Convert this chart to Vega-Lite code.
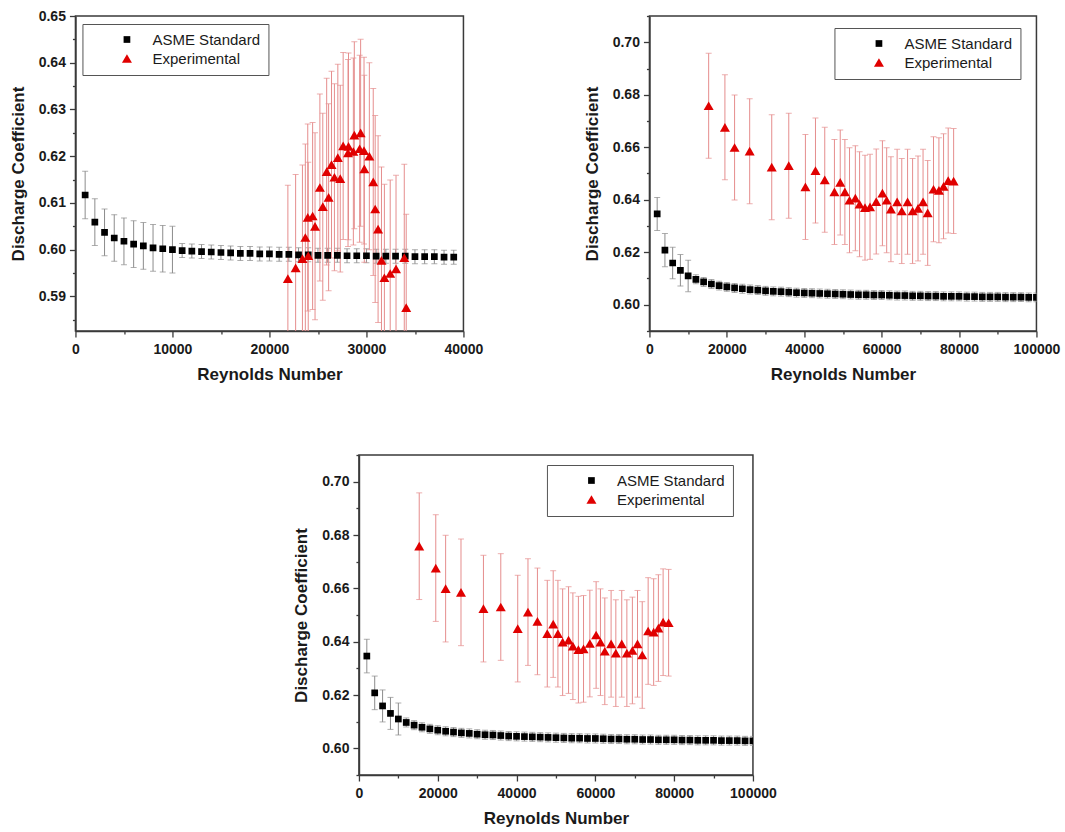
{
  "$schema": "https://vega.github.io/schema/vega-lite/v6.json",
  "background": "white",
  "padding": {"left": 8, "top": 8, "right": 0, "bottom": 0},
  "config": {
    "font": "Liberation Sans",
    "view": {"stroke": "#3a3a3a", "strokeWidth": 1.5},
    "axis": {
      "grid": false,
      "domainColor": "#3a3a3a",
      "domainWidth": 1.5,
      "tickColor": "#3a3a3a",
      "tickWidth": 1.3,
      "labelFont": "Liberation Sans",
      "labelFontWeight": "bold",
      "labelFontSize": 14,
      "labelColor": "#1a1a1a",
      "labelOverlap": false,
      "labelFlush": false,
      "titleFont": "Liberation Sans",
      "titleFontWeight": "bold",
      "titleFontSize": 17,
      "titleColor": "#1a1a1a"
    },
    "axisX": {"labelPadding": 5, "titlePadding": 10},
    "axisY": {"labelPadding": 4, "titlePadding": 11},
    "legend": {
      "labelFont": "Liberation Sans",
      "labelFontSize": 15,
      "labelColor": "#1a1a1a",
      "strokeColor": "#555555",
      "fillColor": "white",
      "padding": 8,
      "symbolOffset": 29,
      "labelOffset": 18,
      "rowPadding": 3,
      "symbolSize": 60,
      "symbolStrokeWidth": 0
    }
  },
  "datasets": {
    "reA": [
      {"series": "ASME Standard", "Re": 1000, "Cd": 0.6117, "err": 0.0051},
      {"series": "ASME Standard", "Re": 2000, "Cd": 0.6059, "err": 0.005},
      {"series": "ASME Standard", "Re": 3000, "Cd": 0.6037, "err": 0.005},
      {"series": "ASME Standard", "Re": 4000, "Cd": 0.6025, "err": 0.005},
      {"series": "ASME Standard", "Re": 5000, "Cd": 0.6018, "err": 0.005},
      {"series": "ASME Standard", "Re": 6000, "Cd": 0.6012, "err": 0.005},
      {"series": "ASME Standard", "Re": 7000, "Cd": 0.6008, "err": 0.005},
      {"series": "ASME Standard", "Re": 8000, "Cd": 0.6004, "err": 0.005},
      {"series": "ASME Standard", "Re": 9000, "Cd": 0.6002, "err": 0.005},
      {"series": "ASME Standard", "Re": 10000, "Cd": 0.6, "err": 0.005},
      {"series": "ASME Standard", "Re": 11000, "Cd": 0.5998, "err": 0.0015},
      {"series": "ASME Standard", "Re": 12000, "Cd": 0.5997, "err": 0.0015},
      {"series": "ASME Standard", "Re": 13000, "Cd": 0.5996, "err": 0.0015},
      {"series": "ASME Standard", "Re": 14000, "Cd": 0.5995, "err": 0.0015},
      {"series": "ASME Standard", "Re": 15000, "Cd": 0.5994, "err": 0.0015},
      {"series": "ASME Standard", "Re": 16000, "Cd": 0.5993, "err": 0.0015},
      {"series": "ASME Standard", "Re": 17000, "Cd": 0.5992, "err": 0.0015},
      {"series": "ASME Standard", "Re": 18000, "Cd": 0.5992, "err": 0.0015},
      {"series": "ASME Standard", "Re": 19000, "Cd": 0.5991, "err": 0.0015},
      {"series": "ASME Standard", "Re": 20000, "Cd": 0.5991, "err": 0.0015},
      {"series": "ASME Standard", "Re": 21000, "Cd": 0.599, "err": 0.0015},
      {"series": "ASME Standard", "Re": 22000, "Cd": 0.599, "err": 0.0015},
      {"series": "ASME Standard", "Re": 23000, "Cd": 0.5989, "err": 0.0015},
      {"series": "ASME Standard", "Re": 24000, "Cd": 0.5989, "err": 0.0015},
      {"series": "ASME Standard", "Re": 25000, "Cd": 0.5988, "err": 0.0015},
      {"series": "ASME Standard", "Re": 26000, "Cd": 0.5988, "err": 0.0015},
      {"series": "ASME Standard", "Re": 27000, "Cd": 0.5988, "err": 0.0015},
      {"series": "ASME Standard", "Re": 28000, "Cd": 0.5987, "err": 0.0015},
      {"series": "ASME Standard", "Re": 29000, "Cd": 0.5987, "err": 0.0015},
      {"series": "ASME Standard", "Re": 30000, "Cd": 0.5987, "err": 0.0015},
      {"series": "ASME Standard", "Re": 31000, "Cd": 0.5986, "err": 0.0015},
      {"series": "ASME Standard", "Re": 32000, "Cd": 0.5986, "err": 0.0015},
      {"series": "ASME Standard", "Re": 33000, "Cd": 0.5986, "err": 0.0015},
      {"series": "ASME Standard", "Re": 34000, "Cd": 0.5986, "err": 0.0015},
      {"series": "ASME Standard", "Re": 35000, "Cd": 0.5985, "err": 0.0015},
      {"series": "ASME Standard", "Re": 36000, "Cd": 0.5985, "err": 0.0015},
      {"series": "ASME Standard", "Re": 37000, "Cd": 0.5985, "err": 0.0015},
      {"series": "ASME Standard", "Re": 38000, "Cd": 0.5984, "err": 0.0015},
      {"series": "ASME Standard", "Re": 39000, "Cd": 0.5984, "err": 0.0015},
      {"series": "Experimental", "Re": 21900, "Cd": 0.5938, "err": 0.02},
      {"series": "Experimental", "Re": 22700, "Cd": 0.5961, "err": 0.02},
      {"series": "Experimental", "Re": 23400, "Cd": 0.5981, "err": 0.02},
      {"series": "Experimental", "Re": 23700, "Cd": 0.6026, "err": 0.02},
      {"series": "Experimental", "Re": 23950, "Cd": 0.6069, "err": 0.02},
      {"series": "Experimental", "Re": 24000, "Cd": 0.5987, "err": 0.02},
      {"series": "Experimental", "Re": 24450, "Cd": 0.6072, "err": 0.02},
      {"series": "Experimental", "Re": 24700, "Cd": 0.605, "err": 0.02},
      {"series": "Experimental", "Re": 25200, "Cd": 0.6133, "err": 0.02},
      {"series": "Experimental", "Re": 25500, "Cd": 0.6092, "err": 0.02},
      {"series": "Experimental", "Re": 25900, "Cd": 0.6167, "err": 0.02},
      {"series": "Experimental", "Re": 26100, "Cd": 0.6112, "err": 0.02},
      {"series": "Experimental", "Re": 26400, "Cd": 0.6182, "err": 0.02},
      {"series": "Experimental", "Re": 26700, "Cd": 0.6155, "err": 0.02},
      {"series": "Experimental", "Re": 27050, "Cd": 0.6197, "err": 0.02},
      {"series": "Experimental", "Re": 27300, "Cd": 0.6152, "err": 0.02},
      {"series": "Experimental", "Re": 27600, "Cd": 0.6222, "err": 0.02},
      {"series": "Experimental", "Re": 28100, "Cd": 0.6207, "err": 0.02},
      {"series": "Experimental", "Re": 28150, "Cd": 0.6221, "err": 0.02},
      {"series": "Experimental", "Re": 28650, "Cd": 0.621, "err": 0.02},
      {"series": "Experimental", "Re": 28750, "Cd": 0.6245, "err": 0.02},
      {"series": "Experimental", "Re": 29300, "Cd": 0.6216, "err": 0.02},
      {"series": "Experimental", "Re": 29400, "Cd": 0.625, "err": 0.02},
      {"series": "Experimental", "Re": 29750, "Cd": 0.6212, "err": 0.02},
      {"series": "Experimental", "Re": 29780, "Cd": 0.6173, "err": 0.02},
      {"series": "Experimental", "Re": 30300, "Cd": 0.62, "err": 0.02},
      {"series": "Experimental", "Re": 30700, "Cd": 0.6145, "err": 0.02},
      {"series": "Experimental", "Re": 30900, "Cd": 0.6087, "err": 0.02},
      {"series": "Experimental", "Re": 31200, "Cd": 0.6044, "err": 0.02},
      {"series": "Experimental", "Re": 31550, "Cd": 0.5977, "err": 0.02},
      {"series": "Experimental", "Re": 31850, "Cd": 0.594, "err": 0.02},
      {"series": "Experimental", "Re": 32450, "Cd": 0.5949, "err": 0.02},
      {"series": "Experimental", "Re": 33050, "Cd": 0.5959, "err": 0.02},
      {"series": "Experimental", "Re": 33900, "Cd": 0.5983, "err": 0.02},
      {"series": "Experimental", "Re": 34100, "Cd": 0.5876, "err": 0.02}
    ],
    "reB": [
      {"series": "ASME Standard", "Re": 2000, "Cd": 0.6346, "err": 0.0063},
      {"series": "ASME Standard", "Re": 4000, "Cd": 0.6208, "err": 0.0063},
      {"series": "ASME Standard", "Re": 6000, "Cd": 0.6159, "err": 0.006},
      {"series": "ASME Standard", "Re": 8000, "Cd": 0.6131, "err": 0.006},
      {"series": "ASME Standard", "Re": 10000, "Cd": 0.611, "err": 0.006},
      {"series": "ASME Standard", "Re": 12000, "Cd": 0.6097, "err": 0.0017},
      {"series": "ASME Standard", "Re": 14000, "Cd": 0.6087, "err": 0.0017},
      {"series": "ASME Standard", "Re": 16000, "Cd": 0.6079, "err": 0.0017},
      {"series": "ASME Standard", "Re": 18000, "Cd": 0.6073, "err": 0.0017},
      {"series": "ASME Standard", "Re": 20000, "Cd": 0.6068, "err": 0.0017},
      {"series": "ASME Standard", "Re": 22000, "Cd": 0.6064, "err": 0.0017},
      {"series": "ASME Standard", "Re": 24000, "Cd": 0.6061, "err": 0.0017},
      {"series": "ASME Standard", "Re": 26000, "Cd": 0.6058, "err": 0.0017},
      {"series": "ASME Standard", "Re": 28000, "Cd": 0.6056, "err": 0.0017},
      {"series": "ASME Standard", "Re": 30000, "Cd": 0.6053, "err": 0.0017},
      {"series": "ASME Standard", "Re": 32000, "Cd": 0.6051, "err": 0.0017},
      {"series": "ASME Standard", "Re": 34000, "Cd": 0.605, "err": 0.0017},
      {"series": "ASME Standard", "Re": 36000, "Cd": 0.6048, "err": 0.0017},
      {"series": "ASME Standard", "Re": 38000, "Cd": 0.6046, "err": 0.0017},
      {"series": "ASME Standard", "Re": 40000, "Cd": 0.6045, "err": 0.0017},
      {"series": "ASME Standard", "Re": 42000, "Cd": 0.6044, "err": 0.0017},
      {"series": "ASME Standard", "Re": 44000, "Cd": 0.6043, "err": 0.0017},
      {"series": "ASME Standard", "Re": 46000, "Cd": 0.6042, "err": 0.0017},
      {"series": "ASME Standard", "Re": 48000, "Cd": 0.6041, "err": 0.0017},
      {"series": "ASME Standard", "Re": 50000, "Cd": 0.604, "err": 0.0017},
      {"series": "ASME Standard", "Re": 52000, "Cd": 0.6039, "err": 0.0017},
      {"series": "ASME Standard", "Re": 54000, "Cd": 0.6038, "err": 0.0017},
      {"series": "ASME Standard", "Re": 56000, "Cd": 0.6038, "err": 0.0017},
      {"series": "ASME Standard", "Re": 58000, "Cd": 0.6037, "err": 0.0017},
      {"series": "ASME Standard", "Re": 60000, "Cd": 0.6037, "err": 0.0017},
      {"series": "ASME Standard", "Re": 62000, "Cd": 0.6036, "err": 0.0017},
      {"series": "ASME Standard", "Re": 64000, "Cd": 0.6035, "err": 0.0017},
      {"series": "ASME Standard", "Re": 66000, "Cd": 0.6035, "err": 0.0017},
      {"series": "ASME Standard", "Re": 68000, "Cd": 0.6034, "err": 0.0017},
      {"series": "ASME Standard", "Re": 70000, "Cd": 0.6034, "err": 0.0017},
      {"series": "ASME Standard", "Re": 72000, "Cd": 0.6033, "err": 0.0017},
      {"series": "ASME Standard", "Re": 74000, "Cd": 0.6033, "err": 0.0017},
      {"series": "ASME Standard", "Re": 76000, "Cd": 0.6032, "err": 0.0017},
      {"series": "ASME Standard", "Re": 78000, "Cd": 0.6032, "err": 0.0017},
      {"series": "ASME Standard", "Re": 80000, "Cd": 0.6032, "err": 0.0017},
      {"series": "ASME Standard", "Re": 82000, "Cd": 0.6031, "err": 0.0017},
      {"series": "ASME Standard", "Re": 84000, "Cd": 0.6031, "err": 0.0017},
      {"series": "ASME Standard", "Re": 86000, "Cd": 0.603, "err": 0.0017},
      {"series": "ASME Standard", "Re": 88000, "Cd": 0.603, "err": 0.0017},
      {"series": "ASME Standard", "Re": 90000, "Cd": 0.603, "err": 0.0017},
      {"series": "ASME Standard", "Re": 92000, "Cd": 0.6029, "err": 0.0017},
      {"series": "ASME Standard", "Re": 94000, "Cd": 0.6029, "err": 0.0017},
      {"series": "ASME Standard", "Re": 96000, "Cd": 0.6029, "err": 0.0017},
      {"series": "ASME Standard", "Re": 98000, "Cd": 0.6028, "err": 0.0017},
      {"series": "ASME Standard", "Re": 100000, "Cd": 0.6028, "err": 0.0017},
      {"series": "Experimental", "Re": 15300, "Cd": 0.6758, "err": 0.02},
      {"series": "Experimental", "Re": 19500, "Cd": 0.6676, "err": 0.02},
      {"series": "Experimental", "Re": 22000, "Cd": 0.6599, "err": 0.02},
      {"series": "Experimental", "Re": 25900, "Cd": 0.6585, "err": 0.02},
      {"series": "Experimental", "Re": 31600, "Cd": 0.6524, "err": 0.02},
      {"series": "Experimental", "Re": 36000, "Cd": 0.653, "err": 0.02},
      {"series": "Experimental", "Re": 40300, "Cd": 0.6449, "err": 0.02},
      {"series": "Experimental", "Re": 42900, "Cd": 0.6511, "err": 0.02},
      {"series": "Experimental", "Re": 45300, "Cd": 0.6476, "err": 0.02},
      {"series": "Experimental", "Re": 47800, "Cd": 0.643, "err": 0.02},
      {"series": "Experimental", "Re": 49300, "Cd": 0.6466, "err": 0.02},
      {"series": "Experimental", "Re": 50500, "Cd": 0.643, "err": 0.02},
      {"series": "Experimental", "Re": 51700, "Cd": 0.6398, "err": 0.02},
      {"series": "Experimental", "Re": 53200, "Cd": 0.6406, "err": 0.02},
      {"series": "Experimental", "Re": 54300, "Cd": 0.6383, "err": 0.02},
      {"series": "Experimental", "Re": 55700, "Cd": 0.637, "err": 0.02},
      {"series": "Experimental", "Re": 57000, "Cd": 0.6373, "err": 0.02},
      {"series": "Experimental", "Re": 58600, "Cd": 0.6393, "err": 0.02},
      {"series": "Experimental", "Re": 60200, "Cd": 0.6425, "err": 0.02},
      {"series": "Experimental", "Re": 61300, "Cd": 0.6398, "err": 0.02},
      {"series": "Experimental", "Re": 62400, "Cd": 0.6364, "err": 0.02},
      {"series": "Experimental", "Re": 64000, "Cd": 0.6392, "err": 0.02},
      {"series": "Experimental", "Re": 65200, "Cd": 0.6357, "err": 0.02},
      {"series": "Experimental", "Re": 66700, "Cd": 0.6392, "err": 0.02},
      {"series": "Experimental", "Re": 68000, "Cd": 0.6357, "err": 0.02},
      {"series": "Experimental", "Re": 69400, "Cd": 0.6367, "err": 0.02},
      {"series": "Experimental", "Re": 70700, "Cd": 0.6392, "err": 0.02},
      {"series": "Experimental", "Re": 71900, "Cd": 0.635, "err": 0.02},
      {"series": "Experimental", "Re": 73400, "Cd": 0.644, "err": 0.02},
      {"series": "Experimental", "Re": 74800, "Cd": 0.6436, "err": 0.02},
      {"series": "Experimental", "Re": 76000, "Cd": 0.6451, "err": 0.02},
      {"series": "Experimental", "Re": 77200, "Cd": 0.6473, "err": 0.02},
      {"series": "Experimental", "Re": 78600, "Cd": 0.6471, "err": 0.02}
    ]
  },
  "bounds": "full",
  "center": true,
  "spacing": 64,
  "resolve": {"scale": {"color": "independent", "shape": "independent", "size": "independent"}},
  "vconcat": [
    {
      "bounds": "flush",
      "spacing": 186,
      "resolve": {"scale": {"color": "independent", "shape": "independent", "size": "independent"}},
      "hconcat": [
        {
          "width": 388,
          "height": 315,
          "data": {"name": "reA"},
          "encoding": {
            "x": {
              "field": "Re", "type": "quantitative", "title": "Reynolds Number",
              "scale": {"domain": [0, 40000], "nice": false, "zero": false},
              "axis": {
                "values": [0, 5000, 10000, 15000, 20000, 25000, 30000, 35000, 40000],
                "format": "d",
                "labelExpr": "datum.value % 10000 === 0 ? datum.label : ''",
                "tickSize": {"condition": {"test": "datum.value % 10000 === 0", "value": 6}, "value": 3}
              }
            },
            "y": {
              "field": "Cd", "type": "quantitative", "title": "Discharge Coefficient",
              "scale": {"domain": [0.5826, 0.65], "nice": false, "zero": false},
              "axis": {
                "values": [0.585, 0.59, 0.595, 0.6, 0.605, 0.61, 0.615, 0.62, 0.625, 0.63, 0.635, 0.64, 0.645, 0.65],
                "format": ".2f",
                "labelExpr": "abs(datum.value * 100 - round(datum.value * 100)) < 0.01 ? datum.label : ''",
                "tickSize": {"condition": {"test": "abs(datum.value * 100 - round(datum.value * 100)) < 0.01", "value": 6}, "value": 3}
              }
            }
          },
          "layer": [
            {
              "transform": [{"filter": "datum.series === 'ASME Standard'"}],
              "mark": {"type": "errorbar", "color": "#8c8c8c", "thickness": 1, "clip": true, "ticks": {"size": 6}},
              "encoding": {"yError": {"field": "err"}}
            },
            {
              "transform": [{"filter": "datum.series === 'Experimental'"}],
              "mark": {"type": "errorbar", "color": "#e58d8d", "thickness": 1, "clip": true, "ticks": {"size": 6}},
              "encoding": {"yError": {"field": "err"}}
            },
            {
              "mark": {"type": "point", "filled": true, "opacity": 1, "clip": true},
              "encoding": {
                "color": {
                  "field": "series", "type": "nominal",
                  "scale": {"domain": ["ASME Standard", "Experimental"], "range": ["#000000", "#e00000"]},
                  "legend": {"title": null, "orient": "none", "legendX": 7, "legendY": 8}
                },
                "shape": {
                  "field": "series", "type": "nominal",
                  "scale": {"domain": ["ASME Standard", "Experimental"], "range": ["square", "triangle-up"]},
                  "legend": {"title": null, "orient": "none", "legendX": 7, "legendY": 8}
                },
                "size": {
                  "field": "series", "type": "nominal",
                  "scale": {"domain": ["ASME Standard", "Experimental"], "range": [45, 100]},
                  "legend": null
                }
              }
            }
          ]
        },
        {
          "width": 387,
          "height": 315,
          "data": {"name": "reB"},
          "encoding": {
            "x": {
              "field": "Re", "type": "quantitative", "title": "Reynolds Number",
              "scale": {"domain": [0, 100000], "nice": false, "zero": false},
              "axis": {
                "values": [0, 10000, 20000, 30000, 40000, 50000, 60000, 70000, 80000, 90000, 100000],
                "format": "d",
                "labelExpr": "datum.value % 20000 === 0 ? datum.label : ''",
                "tickSize": {"condition": {"test": "datum.value % 20000 === 0", "value": 6}, "value": 3}
              }
            },
            "y": {
              "field": "Cd", "type": "quantitative", "title": "Discharge Coefficient",
              "scale": {"domain": [0.59, 0.71], "nice": false, "zero": false},
              "axis": {
                "values": [0.59, 0.6, 0.61, 0.62, 0.63, 0.64, 0.65, 0.66, 0.67, 0.68, 0.69, 0.7, 0.71],
                "format": ".2f",
                "labelExpr": "round(datum.value * 100) % 2 === 0 && datum.value > 0.595 && datum.value < 0.705 ? datum.label : ''",
                "tickSize": {"condition": {"test": "round(datum.value * 100) % 2 === 0", "value": 6}, "value": 3}
              }
            }
          },
          "layer": [
            {
              "transform": [{"filter": "datum.series === 'ASME Standard'"}],
              "mark": {"type": "errorbar", "color": "#8c8c8c", "thickness": 1, "clip": true, "ticks": {"size": 6}},
              "encoding": {"yError": {"field": "err"}}
            },
            {
              "transform": [{"filter": "datum.series === 'Experimental'"}],
              "mark": {"type": "errorbar", "color": "#e58d8d", "thickness": 1, "clip": true, "ticks": {"size": 6}},
              "encoding": {"yError": {"field": "err"}}
            },
            {
              "mark": {"type": "point", "filled": true, "opacity": 1, "clip": true},
              "encoding": {
                "color": {
                  "field": "series", "type": "nominal",
                  "scale": {"domain": ["ASME Standard", "Experimental"], "range": ["#000000", "#e00000"]},
                  "legend": {"title": null, "orient": "none", "legendX": 185, "legendY": 12}
                },
                "shape": {
                  "field": "series", "type": "nominal",
                  "scale": {"domain": ["ASME Standard", "Experimental"], "range": ["square", "triangle-up"]},
                  "legend": {"title": null, "orient": "none", "legendX": 185, "legendY": 12}
                },
                "size": {
                  "field": "series", "type": "nominal",
                  "scale": {"domain": ["ASME Standard", "Experimental"], "range": [45, 100]},
                  "legend": null
                }
              }
            }
          ]
        }
      ]
    },
    {
      "width": 394,
      "height": 320,
      "data": {"name": "reB"},
      "encoding": {
        "x": {
          "field": "Re", "type": "quantitative", "title": "Reynolds Number",
          "scale": {"domain": [0, 100000], "nice": false, "zero": false},
          "axis": {
            "values": [0, 10000, 20000, 30000, 40000, 50000, 60000, 70000, 80000, 90000, 100000],
            "format": "d",
            "labelExpr": "datum.value % 20000 === 0 ? datum.label : ''",
            "tickSize": {"condition": {"test": "datum.value % 20000 === 0", "value": 6}, "value": 3}
          }
        },
        "y": {
          "field": "Cd", "type": "quantitative", "title": "Discharge Coefficient",
          "scale": {"domain": [0.59, 0.71], "nice": false, "zero": false},
          "axis": {
            "values": [0.59, 0.6, 0.61, 0.62, 0.63, 0.64, 0.65, 0.66, 0.67, 0.68, 0.69, 0.7, 0.71],
            "format": ".2f",
            "labelExpr": "round(datum.value * 100) % 2 === 0 && datum.value > 0.595 && datum.value < 0.705 ? datum.label : ''",
            "tickSize": {"condition": {"test": "round(datum.value * 100) % 2 === 0", "value": 6}, "value": 3}
          }
        }
      },
      "layer": [
        {
          "transform": [{"filter": "datum.series === 'ASME Standard'"}],
          "mark": {"type": "errorbar", "color": "#8c8c8c", "thickness": 1, "clip": true, "ticks": {"size": 6}},
          "encoding": {"yError": {"field": "err"}}
        },
        {
          "transform": [{"filter": "datum.series === 'Experimental'"}],
          "mark": {"type": "errorbar", "color": "#e58d8d", "thickness": 1, "clip": true, "ticks": {"size": 6}},
          "encoding": {"yError": {"field": "err"}}
        },
        {
          "mark": {"type": "point", "filled": true, "opacity": 1, "clip": true},
          "encoding": {
            "color": {
              "field": "series", "type": "nominal",
              "scale": {"domain": ["ASME Standard", "Experimental"], "range": ["#000000", "#e00000"]},
              "legend": {"title": null, "orient": "none", "legendX": 188, "legendY": 10}
            },
            "shape": {
              "field": "series", "type": "nominal",
              "scale": {"domain": ["ASME Standard", "Experimental"], "range": ["square", "triangle-up"]},
              "legend": {"title": null, "orient": "none", "legendX": 188, "legendY": 10}
            },
            "size": {
              "field": "series", "type": "nominal",
              "scale": {"domain": ["ASME Standard", "Experimental"], "range": [45, 100]},
              "legend": null
            }
          }
        }
      ]
    }
  ]
}
